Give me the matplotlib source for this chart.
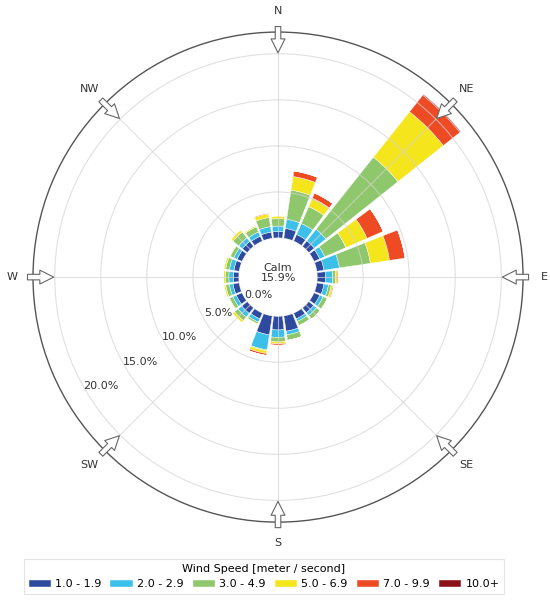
import numpy as np
import matplotlib
matplotlib.use("Agg")
import matplotlib.pyplot as plt

# wind direction bins (degrees, compass) and frequency (%) per speed class
directions = [0, 15, 30, 45, 60, 75, 90, 105, 120, 135, 150, 165,
              180, 195, 210, 225, 240, 255, 270, 285, 300, 315, 330, 345]
speed_labels = ["1.0 - 1.9", "2.0 - 2.9", "3.0 - 4.9", "5.0 - 6.9", "7.0 - 9.9", "10.0+"]
speed_1 = [0.7, 1.1, 0.8, 0.8, 0.7, 0.8, 0.9, 0.8, 0.7, 0.7, 0.7, 1.7,
           1.5, 2.1, 0.7, 0.8, 0.7, 0.7, 0.6, 0.6, 0.6, 0.7, 0.6, 0.7]
speed_2 = [0.6, 1.0, 1.3, 1.6, 0.6, 1.7, 0.8, 0.5, 0.4, 0.4, 0.3, 0.4,
           0.8, 1.65, 0.4, 0.5, 0.4, 0.4, 0.5, 0.5, 0.4, 0.5, 0.5, 0.6]
speed_3 = [0.8, 3.2, 2.0, 10.0, 2.5, 3.4, 0.3, 0.3, 0.5, 0.5, 0.5, 0.6,
           0.5, 0.1, 0.2, 0.5, 0.4, 0.4, 0.4, 0.4, 0.4, 0.8, 0.6, 1.0]
speed_4 = [0.3, 1.5, 1.0, 6.3, 2.5, 2.1, 0.2, 0.2, 0.0, 0.0, 0.0, 0.0,
           0.2, 0.3, 0.1, 0.3, 0.1, 0.2, 0.2, 0.2, 0.1, 0.3, 0.15, 0.4]
speed_5 = [0.0, 0.6, 0.6, 2.3, 1.9, 1.7, 0.1, 0.1, 0.0, 0.0, 0.0, 0.0,
           0.15, 0.2, 0.0, 0.0, 0.0, 0.0, 0.0, 0.0, 0.0, 0.0, 0.0, 0.1]
speed_6 = [0.0, 0.0, 0.0, 0.1, 0.0, 0.0, 0.0, 0.0, 0.0, 0.0, 0.0, 0.0,
           0.0, 0.0, 0.0, 0.0, 0.0, 0.0, 0.0, 0.0, 0.0, 0.0, 0.0, 0.0]
calm_pct = 15.9
ring_values = [0, 5, 10, 15, 20]
compass = ["N", "NE", "E", "SE", "S", "SW", "W", "NW"]

colors = ["#2d4a9f", "#3cbfe9", "#8fc76c", "#f4e51c", "#ee4a24", "#8a1117"]

calm_off = 4.24   # radius of the calm circle in % units
rmax = 26.6

fig = plt.figure(figsize=(5.5, 6.05), dpi=100)
ax = fig.add_axes([0.06, 0.137, 0.891, 0.81], projection="polar")
ax.set_theta_zero_location("N")
ax.set_theta_direction(-1)
ax.set_ylim(0, rmax)

theta = np.deg2rad(directions)
width = np.deg2rad(13)
cum = np.zeros(len(directions))
handles = []
for vals, col, lab in zip([speed_1, speed_2, speed_3, speed_4, speed_5, speed_6],
                          colors, speed_labels):
    vals = np.array(vals)
    b = ax.bar(theta, vals, width=width, bottom=calm_off + cum, color=col,
               edgecolor="white", linewidth=0.3, zorder=2, label=lab)
    handles.append(b)
    cum += vals

# white calm disk covering the centre
ax.bar(0, calm_off, width=2 * np.pi, bottom=0, color="white", zorder=3)
ax.annotate("Calm\n%.1f%%" % calm_pct, xy=(0, 0), xytext=(0, 3),
            textcoords="offset points", ha="center", va="center",
            fontsize=8, color="#333333", zorder=4, linespacing=1.05)

ax.set_xticks(np.deg2rad(np.arange(0, 360, 45)))
ax.set_xticklabels([])
ax.set_yticks(calm_off + np.array(ring_values))
ax.set_yticklabels([])
ax.tick_params(size=0)
ax.set_axisbelow(False)
ax.grid(color="#d4d4d4", linewidth=0.8, alpha=0.7)
ax.spines["polar"].set_color("#555555")
ax.spines["polar"].set_linewidth(1.0)

# radial labels
for v in ring_values:
    if v == 0:
        th, r = np.deg2rad(228), calm_off - 1.4
    else:
        th, r = np.deg2rad(238.5), calm_off + v - 1.7
    ax.text(th, r, "%.1f%%" % v, ha="center", va="center",
            fontsize=8, color="#333333", zorder=4)

# compass arrows and labels
for i, name in enumerate(compass):
    th = np.deg2rad(i * 45)
    ax.annotate("", xy=(th, 24.35), xytext=(th, 27.2),
                arrowprops=dict(arrowstyle="simple,head_length=1.0,head_width=1.0,tail_width=0.4",
                                fc="white", ec="#666666", lw=0.8, shrinkA=0, shrinkB=0),
                annotation_clip=False, zorder=5)
    ax.text(th, 28.9, name, ha="center", va="center", fontsize=8, color="#333333")

leg = fig.legend(handles=handles, labels=speed_labels, loc="center",
                 bbox_to_anchor=(0.48, 0.047), ncol=6, fontsize=8,
                 title="Wind Speed [meter / second]", title_fontsize=8,
                 handlelength=2.0, handleheight=0.5, handletextpad=0.4,
                 columnspacing=0.8, borderpad=0.4, fancybox=False,
                 edgecolor="#dddddd")
leg.get_frame().set_linewidth(0.8)

fig.savefig("out.png", dpi=100)
